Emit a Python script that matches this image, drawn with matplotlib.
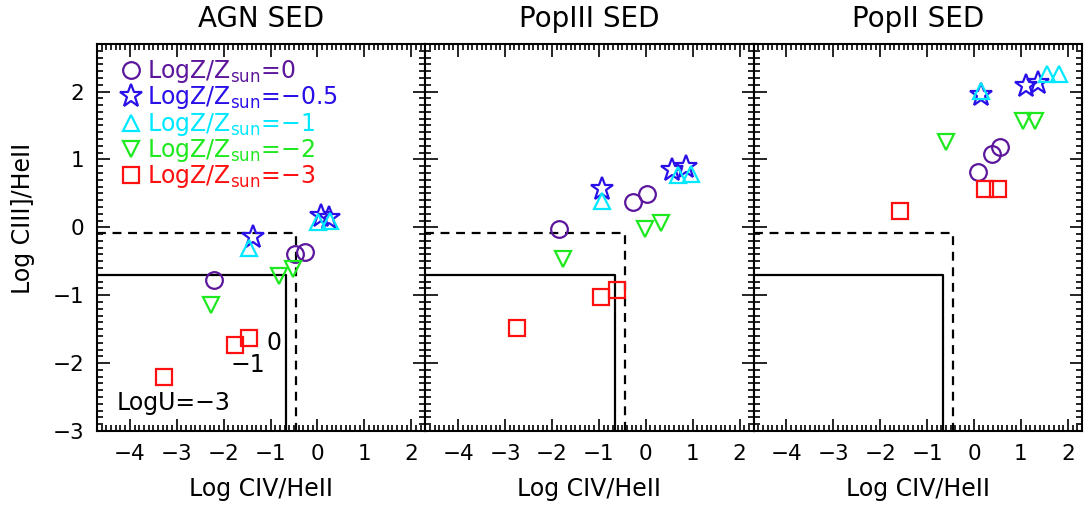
import numpy as np
import matplotlib.pyplot as plt
from matplotlib.ticker import MultipleLocator
from matplotlib.lines import Line2D

plt.rcParams['font.family'] = ['DejaVu Sans']
plt.rcParams['mathtext.default'] = 'regular'

# panel titles
titles = ["AGN SED", "PopIII SED", "PopII SED"]

# metallicity series (rows) x ionisation parameter LogU = -3, -1, 0 (columns)
logz_labels = ["0", "\u22120.5", "\u22121", "\u22122", "\u22123"]
markers = ["o", "*", "^", "v", "s"]
colors = ["#5b169c", "#2a10e8", "#00e8ff", "#1ee81e", "#ff1010"]
msizes = [12, 17, 11, 11, 11.5]

agn_x = [[-2.21, -0.48, -0.27],
         [-1.38, 0.08, 0.24],
         [-1.45, 0.01, 0.26],
         [-2.28, -0.82, -0.52],
         [-3.27, -1.75, -1.45]]
agn_y = [[-0.77, -0.39, -0.36],
         [-0.15, 0.16, 0.13],
         [-0.30, 0.08, 0.09],
         [-1.15, -0.72, -0.62],
         [-2.21, -1.74, -1.63]]

pop3_x = [[-1.86, -0.28, 0.03],
          [-0.93, 0.56, 0.86],
          [-0.94, 0.69, 0.97],
          [-1.77, -0.01, 0.32],
          [-2.75, -0.96, -0.62]]
pop3_y = [[-0.02, 0.38, 0.49],
          [0.57, 0.84, 0.89],
          [0.39, 0.77, 0.78],
          [-0.46, -0.02, 0.07],
          [-1.48, -1.03, -0.93]]

pop2_x = [[0.08, 0.39, 0.55],
          [0.15, 1.10, 1.37],
          [0.15, 1.55, 1.81],
          [-0.60, 1.05, 1.29],
          [-1.59, 0.23, 0.50]]
pop2_y = [[0.81, 1.08, 1.19],
          [1.95, 2.08, 2.12],
          [2.01, 2.26, 2.26],
          [1.26, 1.57, 1.57],
          [0.24, 0.57, 0.57]]

panels_x = [agn_x, pop3_x, pop2_x]
panels_y = [agn_y, pop3_y, pop2_y]

# AGN / star-forming boundaries (solid and dashed)
solid_x, solid_y = -0.66, -0.70
dash_x, dash_y = -0.45, -0.08

fig, axes = plt.subplots(1, 3, figsize=(10.85, 5.09), dpi=100, sharey=True)
fig.subplots_adjust(left=0.0894, right=0.9972, top=0.9136, bottom=0.1532, wspace=0)

for i, ax in enumerate(axes):
    ax.set_xlim(-4.7, 2.3)
    ax.set_ylim(-3.0, 2.7)
    ax.set_xticks(range(-4, 3))
    ax.set_yticks(range(-3, 3))
    ax.xaxis.set_minor_locator(MultipleLocator(0.1))
    ax.yaxis.set_minor_locator(MultipleLocator(0.1))
    ax.tick_params(which='both', direction='in', top=True, right=True, width=1.2)
    ax.tick_params(which='major', length=9, labelsize=15.5, pad=9)
    ax.tick_params(which='minor', length=4)
    for s in ax.spines.values():
        s.set_linewidth(1.5)

    ax.plot([-4.7, solid_x, solid_x], [solid_y, solid_y, -3.0], color='black', lw=1.6)
    ax.plot([-4.7, dash_x, dash_x], [dash_y, dash_y, -3.0], color='black', lw=1.6,
            ls=(0, (4, 3)))

    xs, ys = panels_x[i], panels_y[i]
    for k in range(5):
        ax.plot(xs[k], ys[k], ls='none', marker=markers[k], ms=msizes[k],
                mfc='none', mec=colors[k], mew=1.6)

    ax.set_title(titles[i], fontsize=20, pad=12)
    ax.set_xlabel("Log CIV/HeII", fontsize=17, labelpad=10)

axes[0].set_ylabel("Log CIII]/HeII", fontsize=17)
axes[0].yaxis.set_label_coords(-0.19, 0.55)

# legend
handles = [Line2D([], [], ls='none', marker=markers[k], ms=msizes[k],
                  mfc='none', mec=colors[k], mew=1.6) for k in range(5)]
labels = ["LogZ/Z$_{sun}$=" + z for z in logz_labels]
axes[0].legend(handles, labels, loc='upper left', frameon=False, fontsize=17,
               labelcolor=colors, handlelength=0.9, handletextpad=0.2,
               labelspacing=-0.03, borderaxespad=0.4, borderpad=0.3,
               bbox_to_anchor=(0.022, 1.006))

# LogU labels
axes[0].text(-4.29, -2.58, "LogU=\u22123", fontsize=17, va='center')
axes[0].text(-1.85, -2.03, "\u22121", fontsize=17, va='center')
axes[0].text(-1.09, -1.71, "0", fontsize=17, va='center')

plt.savefig("out.png", dpi=100)
